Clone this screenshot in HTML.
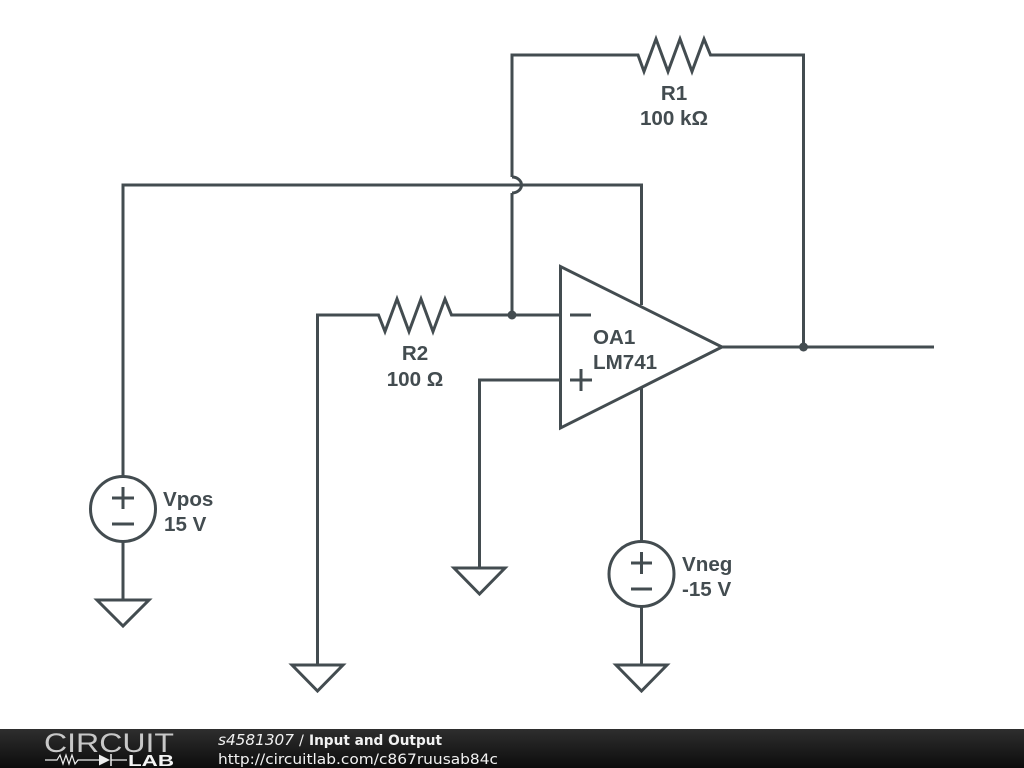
<!DOCTYPE html>
<html><head><meta charset="utf-8"><style>
html,body{margin:0;padding:0;background:#fff;width:1024px;height:768px;overflow:hidden}
svg{display:block}
.l{font-family:"Liberation Sans",sans-serif;font-weight:700;font-size:20.6px;fill:#434c50}
</style></head><body>
<svg width="1024" height="768" viewBox="0 0 1024 768" xmlns="http://www.w3.org/2000/svg">
<defs>
<linearGradient id="g" x1="0" y1="0" x2="0" y2="1"><stop offset="0" stop-color="#2e2e2e"/><stop offset="1" stop-color="#0c0c0c"/></linearGradient>
</defs>
<rect width="1024" height="768" fill="#fff"/>
<g fill="none" stroke="#434c50" stroke-width="3" stroke-linejoin="miter">
<!-- feedback R1 -->
<path d="M512 177V55H638L644 71.5L656 39L668 71.5L680 39L692 71.5L704 39L710.5 55H803.5V347"/>
<path d="M512 193V315"/>
<!-- jump -->
<path d="M512 177A9.5 8 0 0 1 512 193"/>
<!-- top rail -->
<path d="M123 477V185H641.5V305"/>
<!-- R2 -->
<path d="M317.5 664V315H378.5L385 331.5L397 299L409 331.5L421 299L433 331.5L445 299L451.5 315H560.5"/>
<!-- plus input -->
<path d="M560.5 380H479.5V567"/>
<!-- op amp -->
<path d="M560.5 266.5V428L722 347Z"/>
<path d="M722 347H934"/>
<path d="M641.5 388V541"/>
<path d="M570 315H591M570 380H592M581 369V391"/>
<!-- Vpos -->
<circle cx="123" cy="509" r="32.5"/>
<path d="M112 498H134M123 487V509M112 524H134"/>
<path d="M123 541V600"/>
<path d="M97 600H149L123 626Z"/>
<!-- Vneg -->
<circle cx="641.5" cy="574" r="32.5"/>
<path d="M631 563H652M641.5 552V574M631 589H652"/>
<path d="M641.5 606V665"/>
<path d="M616 665H667L641.5 691Z"/>
<!-- grounds -->
<path d="M454 568H505L479.5 594Z"/>
<path d="M292 665H343L317.5 691Z"/>
</g>
<circle cx="512" cy="315" r="4.5" fill="#434c50"/>
<circle cx="803.5" cy="347" r="4.5" fill="#434c50"/>
<text class="l" x="674" y="100" text-anchor="middle">R1</text>
<text class="l" x="674" y="125" text-anchor="middle">100 kΩ</text>
<text class="l" x="415" y="360" text-anchor="middle">R2</text>
<text class="l" x="415" y="386" text-anchor="middle">100 Ω</text>
<text class="l" x="593" y="344">OA1</text>
<text class="l" x="593" y="369">LM741</text>
<text class="l" x="163" y="506">Vpos</text>
<text class="l" x="164" y="531">15 V</text>
<text class="l" x="682" y="571">Vneg</text>
<text class="l" x="682" y="596">-15 V</text>
<!-- footer -->
<rect x="0" y="729" width="1024" height="39" fill="url(#g)"/>
<text x="44" y="752" font-family="'Liberation Sans',sans-serif" font-size="27" fill="#c8c8c8" textLength="130" lengthAdjust="spacingAndGlyphs">CIRCUIT</text>
<path d="M45 760H57L60 755L63 764L66 755L69 764L72 755L75 764L78 760H99M111 760H127" fill="none" stroke="#eee" stroke-width="1.2"/>
<path d="M99 754.5V765.5L110 760Z" fill="#eee"/>
<path d="M111 754V766" stroke="#eee" stroke-width="1.5"/>
<text x="128" y="766" font-family="'Liberation Sans',sans-serif" font-weight="700" font-size="15.5" fill="#f4f4f4" textLength="46" lengthAdjust="spacingAndGlyphs">LAB</text>
<g font-family="'DejaVu Sans',sans-serif" fill="#f2f2f2">
<text x="218" y="745" font-size="15" font-style="italic" textLength="76" lengthAdjust="spacingAndGlyphs">s4581307</text>
<text x="299" y="745" font-size="14.5">/</text>
<text x="309" y="745" font-size="14.5" font-weight="700" textLength="133" lengthAdjust="spacingAndGlyphs">Input and Output</text>
<text x="218" y="764" font-size="14.5" textLength="280" lengthAdjust="spacingAndGlyphs">http://circuitlab.com/c867ruusab84c</text>
</g>
</svg>
</body></html>
